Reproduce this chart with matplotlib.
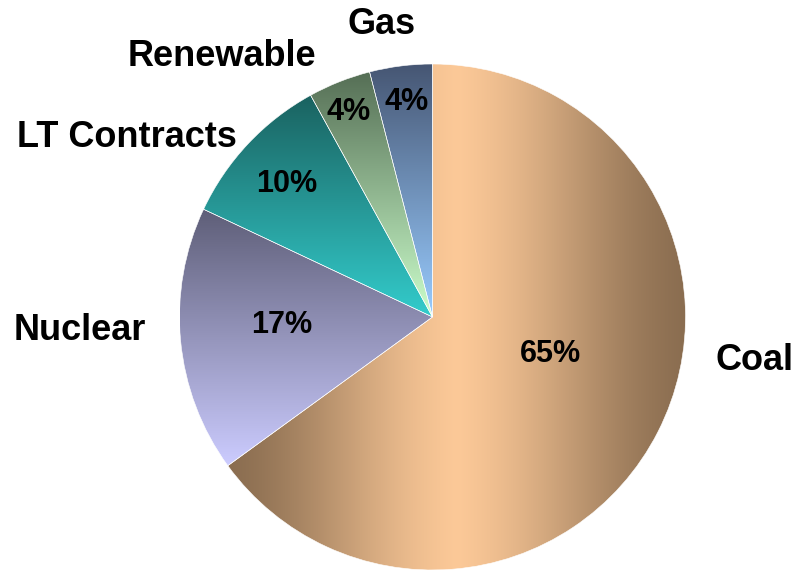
import numpy as np
import matplotlib.pyplot as plt
from matplotlib.colors import to_rgb

# generation mix
sources = ['Coal', 'Nuclear', 'LT Contracts', 'Renewable', 'Gas']
shares = [65, 17, 10, 4, 4]

# gradient colours per slice: (dark, light)
dark_colors = ['#8a6d50', '#5e5e78', '#1a6260', '#556e55', '#465673']
light_colors = ['#fcc998', '#ccccff', '#33cccc', '#ccffcc', '#99ccff']

# label spots (x, baseline y) in pie units
name_pos = [(1.272, -0.211), (-1.394, -0.089), (-1.209, 0.672),
            (-0.831, 0.992), (-0.203, 1.117)]
pct_pos = [(0.465, -0.176), (-0.598, -0.063), (-0.575, 0.496),
           (-0.331, 0.777), (-0.102, 0.819)]

W, H = 797, 571
cx, cy, r_px = 432.5, 317, 253

fig = plt.figure(figsize=(W / 100, H / 100), dpi=100)
ax = fig.add_axes([0, 0, 1, 1])

wedges, _ = ax.pie(shares, startangle=90, counterclock=False, radius=1,
                   wedgeprops=dict(linewidth=0.4, edgecolor='white'))

n = 256
for i, w in enumerate(wedges):
    w.set_facecolor('none')
    d = np.array(to_rgb(dark_colors[i]))
    l = np.array(to_rgb(light_colors[i]))
    ext = w.get_path().get_extents()
    if i == 0:
        # coal: dark at both sides, light in the middle
        u = np.linspace(0, 1, n)
        tri = 1 - np.abs(2 * u - 1)
        t = 0.5 * tri + 0.5 * (0.5 - 0.5 * np.cos(np.pi * tri))
        img = (d + (l - d) * t[:, None])[None, :, :]
    else:
        # the rest: dark at top, light at bottom
        t = np.linspace(0, 1, n)
        img = (d + (l - d) * t[:, None])[:, None, :]
    im = ax.imshow(img, extent=(ext.x0, ext.x1, ext.y0, ext.y1),
                   origin='upper', aspect='auto', interpolation='bilinear',
                   zorder=0)
    im.set_clip_path(w)

font = dict(family='Liberation Sans', weight='bold', color='black')
for name, (x, y) in zip(sources, name_pos):
    ax.text(x, y, name, ha='center', va='baseline', fontsize=26, **font)
for v, (x, y) in zip(shares, pct_pos):
    ax.text(x, y, f'{v}%', ha='center', va='baseline', fontsize=22, **font)

ax.set_xlim(-cx / r_px, (W - cx) / r_px)
ax.set_ylim(-(H - cy) / r_px, cy / r_px)
ax.set_aspect('auto')
ax.axis('off')

fig.savefig('out.png', dpi=100, facecolor='white')
